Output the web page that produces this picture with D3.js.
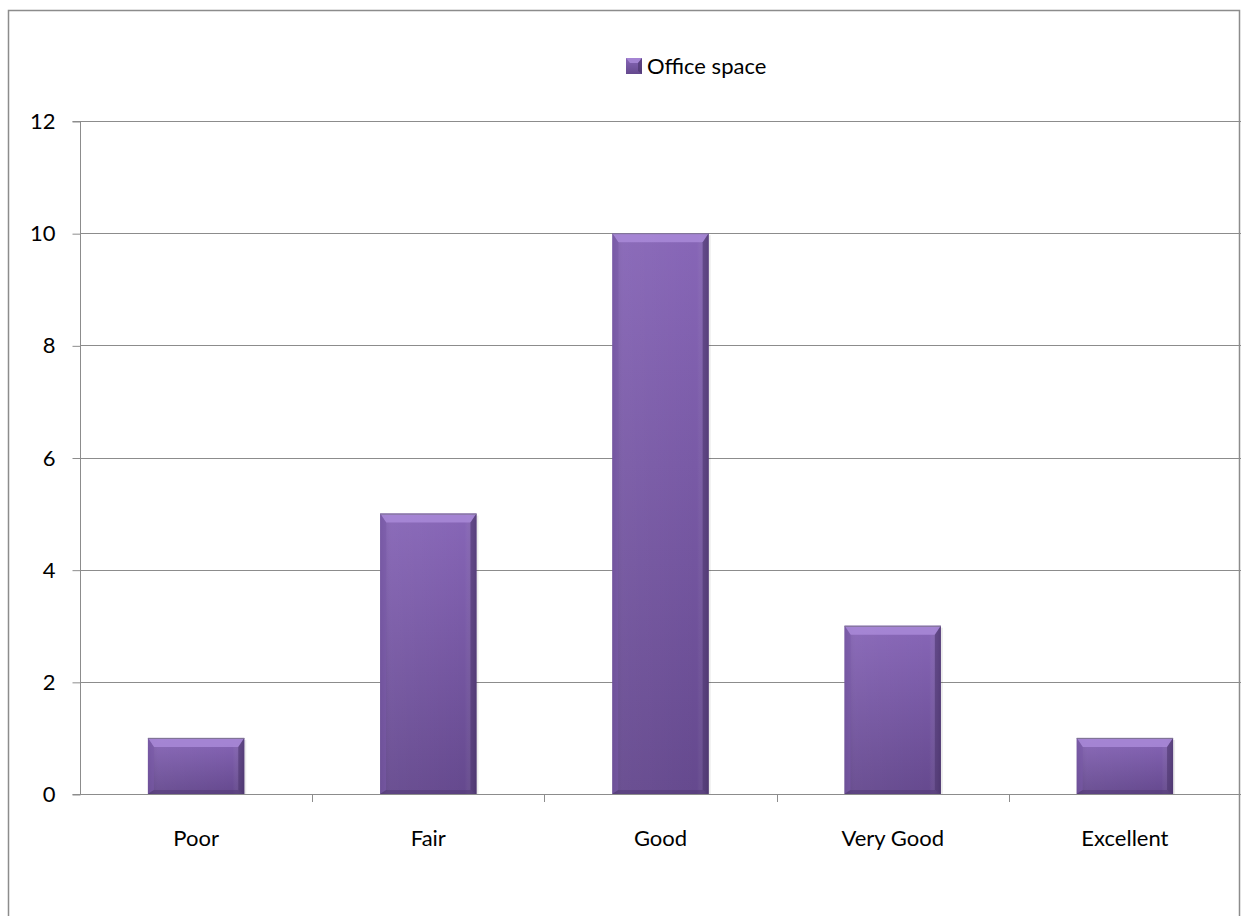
<!DOCTYPE html>
<html>
<head>
<meta charset="utf-8">
<script src="https://cdn.jsdelivr.net/npm/d3@7/dist/d3.min.js"></script>
<style>
  html, body { margin: 0; padding: 0; background: #fff; }
  svg { display: block; }
  text { font-family: Lato, "Open Sans", "Noto Sans", sans-serif; fill: #000; }
</style>
</head>
<body>
<svg id="chart" width="1241" height="916"></svg>
<script>
// Ratings of office space
const categories = ["Poor", "Fair", "Good", "Very Good", "Excellent"];
const officeSpace = [1, 5, 10, 3, 1];
const yTicks = [0, 2, 4, 6, 8, 10, 12];
const seriesName = "Office space";

const svg = d3.select("#chart");
const W = 1241, H = 916;
const plot = { left: 80, right: 1241, top: 121, bottom: 794 };
const fontSize = "22px";

// outer chart frame (open at the bottom edge of the view)
svg.append("path")
  .attr("d", `M8.5,${H} V10.5 H1239.5 V${H}`)
  .attr("fill", "none").attr("stroke", "#8c8c8c").attr("stroke-width", 1.5);

const x = d3.scaleBand().domain(categories).range([plot.left, plot.right]).paddingInner(0.585).paddingOuter(0.2925);
const xBand = d3.scaleBand().domain(categories).range([plot.left, plot.right]);
const y = d3.scaleLinear().domain([0, 12]).range([plot.bottom, plot.top]);

// defs: bar gradients
const defs = svg.append("defs");
const body = defs.append("linearGradient").attr("id", "barBody").attr("x1", 0).attr("y1", 0).attr("x2", 0).attr("y2", 1);
body.append("stop").attr("offset", "0%").attr("stop-color", "#8766b7");
body.append("stop").attr("offset", "100%").attr("stop-color", "#65498e");
const side = defs.append("linearGradient").attr("id", "barSide").attr("x1", 0).attr("y1", 0).attr("x2", 1).attr("y2", 0);
side.append("stop").attr("offset", "0%").attr("stop-color", "#000").attr("stop-opacity", 0.12);
side.append("stop").attr("offset", "12%").attr("stop-color", "#fff").attr("stop-opacity", 0.04);
side.append("stop").attr("offset", "88%").attr("stop-color", "#fff").attr("stop-opacity", 0.0);
side.append("stop").attr("offset", "100%").attr("stop-color", "#000").attr("stop-opacity", 0.22);

// gridlines
svg.append("g").selectAll("line").data(yTicks.filter(d => d > 0)).join("line")
  .attr("x1", plot.left).attr("x2", plot.right)
  .attr("y1", d => Math.round(y(d)) + 0.5).attr("y2", d => Math.round(y(d)) + 0.5)
  .attr("stroke", "#8c8c8c").attr("stroke-width", 1);

// y axis
const yAxis = d3.axisLeft(y).tickValues(yTicks).tickSize(8).tickPadding(17);
const gy = svg.append("g").attr("transform", `translate(${plot.left + 0.5},0.5)`).call(yAxis);
gy.select(".domain").attr("stroke", "#8c8c8c").attr("d", `M-8,${plot.bottom}H0V${plot.top}H-8`);
gy.selectAll(".tick line").attr("stroke", "#8c8c8c");
gy.selectAll(".tick text").style("font-size", fontSize).style("font-family", "Lato, 'Open Sans', sans-serif").attr("fill", "#000");

// x axis
const xAxis = d3.axisBottom(xBand).tickSize(0).tickPadding(0);
const gx = svg.append("g").attr("transform", `translate(0,${plot.bottom + 0.5})`).call(xAxis);
gx.select(".domain").remove();
gx.selectAll(".tick text").attr("dy", "0").attr("y", 51).style("font-size", fontSize)
  .style("font-family", "Lato, 'Open Sans', sans-serif").attr("fill", "#000");
svg.append("line").attr("x1", plot.left).attr("x2", plot.right)
  .attr("y1", plot.bottom + 0.5).attr("y2", plot.bottom + 0.5).attr("stroke", "#8c8c8c");
svg.append("g").selectAll("line").data(categories.slice(1)).join("line")
  .attr("x1", d => Math.round(xBand(d)) + 0.5).attr("x2", d => Math.round(xBand(d)) + 0.5)
  .attr("y1", plot.bottom).attr("y2", plot.bottom + 8)
  .attr("stroke", "#8c8c8c");

// bars with bevelled edges
const bars = svg.append("g").selectAll("g").data(categories.map((c, i) => ({ c, v: officeSpace[i] }))).join("g");
bars.each(function(d) {
  const g = d3.select(this);
  const x0 = x(d.c), w = x.bandwidth(), y0 = y(d.v), y1 = y(0), h = y1 - y0;
  const bt = 9, bs = 6, bb = 4;
  // soft shadow
  g.append("rect").attr("x", x0 + 2).attr("y", y0 + 2).attr("width", w).attr("height", h - 2)
    .attr("fill", "#000").attr("opacity", 0.08);
  g.append("rect").attr("x", x0).attr("y", y0).attr("width", w).attr("height", h).attr("fill", "url(#barBody)");
  g.append("rect").attr("x", x0).attr("y", y0).attr("width", w).attr("height", h).attr("fill", "url(#barSide)");
  // top bevel
  g.append("path").attr("d", `M${x0},${y0}H${x0 + w}L${x0 + w - bs},${y0 + bt}H${x0 + bs}Z`)
    .attr("fill", "#a98ad8").attr("opacity", 0.85);
  // left bevel
  g.append("path").attr("d", `M${x0},${y0}L${x0 + bs},${y0 + bt}V${y1 - bb}L${x0},${y1}Z`)
    .attr("fill", "#7a5aa8").attr("opacity", 0.6);
  // right bevel
  g.append("path").attr("d", `M${x0 + w},${y0}L${x0 + w - bs},${y0 + bt}V${y1 - bb}L${x0 + w},${y1}Z`)
    .attr("fill", "#4d3670").attr("opacity", 0.6);
  // bottom bevel
  g.append("path").attr("d", `M${x0},${y1}L${x0 + bs},${y1 - bb}H${x0 + w - bs}L${x0 + w},${y1}Z`)
    .attr("fill", "#4f3872").attr("opacity", 0.5);
  // top edge line
  g.append("line").attr("x1", x0).attr("x2", x0 + w).attr("y1", y0 + 0.5).attr("y2", y0 + 0.5)
    .attr("stroke", "#7d7390").attr("stroke-width", 1);
});

// legend
const lg = svg.append("g").attr("transform", "translate(626,58)");
lg.append("rect").attr("width", 16).attr("height", 16).attr("fill", "url(#barBody)");
lg.append("path").attr("d", "M0,0H16L12,5H4Z").attr("fill", "#a98ad8").attr("opacity", 0.85);
lg.append("path").attr("d", "M16,0L12,5V13L16,16Z").attr("fill", "#4d3670").attr("opacity", 0.7);
lg.append("text").attr("x", 21).attr("y", 8).attr("dy", "0.35em").style("font-size", fontSize).text(seriesName);
</script>
</body>
</html>
